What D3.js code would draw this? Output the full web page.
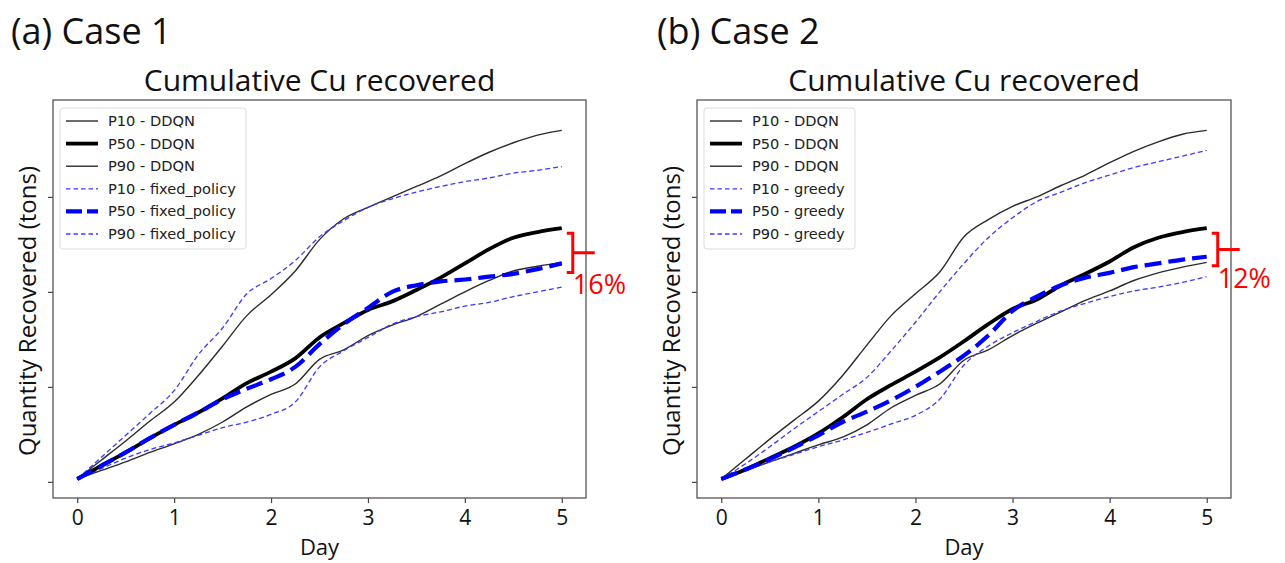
<!DOCTYPE html>
<html>
<head>
<meta charset="utf-8">
<script src="https://cdn.jsdelivr.net/npm/d3@7"></script>
<style>
  body { margin: 0; background: #fff; }
  svg { display: block; }
</style>
</head>
<body>
<svg id="chart"></svg>
<script>
// Datos
var W = 1285,
    H = 563;

var days = [0, 0.25, 0.5, 0.75, 1, 1.25, 1.5, 1.75, 2, 2.25, 2.5,
    2.75, 3, 3.25, 3.5, 3.75, 4, 4.25, 4.5, 4.75, 5];
var xTicks = [0, 1, 2, 3, 4, 5];
var yTicks = [0, 1, 2, 3];

// Case 1
var a_p10_ddqn = [0.03, 0.23, 0.43, 0.64, 0.84, 1.12, 1.43, 1.75, 1.97, 2.22, 2.55,
    2.77, 2.89, 3.00, 3.11, 3.22, 3.35, 3.47, 3.57, 3.65, 3.70];
var a_p50_ddqn = [0.03, 0.17, 0.31, 0.46, 0.60, 0.73, 0.88, 1.04, 1.16, 1.30, 1.52,
    1.67, 1.81, 1.90, 2.02, 2.15, 2.30, 2.45, 2.57, 2.63, 2.67];
var a_p90_ddqn = [0.03, 0.12, 0.21, 0.31, 0.40, 0.50, 0.63, 0.79, 0.92, 1.03, 1.29,
    1.39, 1.54, 1.65, 1.74, 1.87, 2.00, 2.12, 2.22, 2.27, 2.31];
var a_p10_fixed = [0.03, 0.26, 0.49, 0.72, 0.96, 1.34, 1.62, 1.98, 2.14, 2.33, 2.58,
    2.75, 2.89, 2.98, 3.05, 3.11, 3.16, 3.20, 3.25, 3.28, 3.32];
var a_p50_fixed = [0.03, 0.17, 0.31, 0.46, 0.60, 0.73, 0.87, 0.98, 1.08, 1.21, 1.45,
    1.66, 1.83, 2.00, 2.07, 2.11, 2.13, 2.16, 2.19, 2.24, 2.30];
var a_p90_fixed = [0.03, 0.14, 0.25, 0.34, 0.41, 0.49, 0.57, 0.63, 0.71, 0.84, 1.21,
    1.38, 1.52, 1.66, 1.74, 1.79, 1.85, 1.89, 1.95, 2.00, 2.05];

// Case 2
var b_p10_ddqn = [0.03, 0.24, 0.45, 0.65, 0.85, 1.12, 1.44, 1.75, 1.98, 2.21, 2.58,
    2.76, 2.90, 3.00, 3.12, 3.23, 3.36, 3.48, 3.58, 3.66, 3.70];
var b_p50_ddqn = [0.03, 0.13, 0.25, 0.37, 0.51, 0.68, 0.87, 1.02, 1.16, 1.31, 1.48,
    1.66, 1.82, 1.92, 2.07, 2.19, 2.32, 2.47, 2.57, 2.63, 2.67];
var b_p90_ddqn = [0.03, 0.12, 0.21, 0.30, 0.39, 0.47, 0.60, 0.78, 0.91, 1.03, 1.28,
    1.39, 1.54, 1.67, 1.79, 1.91, 2.01, 2.12, 2.20, 2.26, 2.31];
var b_p10_greedy = [0.03, 0.19, 0.37, 0.56, 0.74, 0.92, 1.10, 1.38, 1.68, 2.00, 2.30,
    2.57, 2.78, 2.95, 3.05, 3.15, 3.23, 3.31, 3.37, 3.43, 3.49];
var b_p50_greedy = [0.03, 0.13, 0.24, 0.36, 0.49, 0.63, 0.74, 0.86, 1.00, 1.16, 1.33,
    1.54, 1.80, 1.95, 2.07, 2.15, 2.20, 2.26, 2.30, 2.34, 2.37];
var b_p90_greedy = [0.03, 0.12, 0.21, 0.29, 0.37, 0.44, 0.52, 0.61, 0.70, 0.87, 1.23,
    1.43, 1.57, 1.69, 1.80, 1.88, 1.95, 2.01, 2.05, 2.10, 2.16];

var styles = {
    thin: { color: '#2b2b2b', width: 1.4, dash: null, legDash: null },
    thick: { color: '#000', width: 3.8, dash: null, legDash: null },
    dthin: { color: '#3b3bff', width: 1.3, dash: '5,3', legDash: '4.5,3' },
    dthick: { color: '#0000ff', width: 4.2, dash: '17,7', legDash: '16,5' }
};

var panels = [{
    label: '(a) Case 1', left: 53, right: 586, labelX: 11,
    series: [
        { name: 'P10 - DDQN', values: a_p10_ddqn, st: 'thin' },
        { name: 'P50 - DDQN', values: a_p50_ddqn, st: 'thick' },
        { name: 'P90 - DDQN', values: a_p90_ddqn, st: 'thin' },
        { name: 'P10 - fixed_policy', values: a_p10_fixed, st: 'dthin' },
        { name: 'P50 - fixed_policy', values: a_p50_fixed, st: 'dthick' },
        { name: 'P90 - fixed_policy', values: a_p90_fixed, st: 'dthin' }
    ],
    pct: '16%', legendW: 186
}, {
    label: '(b) Case 2', left: 697, right: 1231, labelX: 657,
    series: [
        { name: 'P10 - DDQN', values: b_p10_ddqn, st: 'thin' },
        { name: 'P50 - DDQN', values: b_p50_ddqn, st: 'thick' },
        { name: 'P90 - DDQN', values: b_p90_ddqn, st: 'thin' },
        { name: 'P10 - greedy', values: b_p10_greedy, st: 'dthin' },
        { name: 'P50 - greedy', values: b_p50_greedy, st: 'dthick' },
        { name: 'P90 - greedy', values: b_p90_greedy, st: 'dthin' }
    ],
    pct: '12%', legendW: 151
}];

var svg = d3.select('#chart')
    .attr('width', W)
    .attr('height', H);

var plotTop = 100,
    plotBottom = 498;
var bigFont = "'Open Sans', 'Noto Sans', sans-serif";

function drawPanel(p) {
    var g = svg.append('g');

    var xScale = d3.scaleLinear()
        .domain([-0.25, 5.25])
        .range([p.left, p.right]);
    var yScale = d3.scaleLinear()
        .domain([-0.17, 4.02])
        .range([plotBottom, plotTop]);

    // etiqueta del panel y titulo
    g.append('text')
        .attr('x', p.labelX)
        .attr('y', 44)
        .attr('font-family', bigFont)
        .attr('font-size', 36)
        .attr('fill', '#111')
        .text(p.label);
    g.append('text')
        .attr('x', (p.left + p.right) / 2)
        .attr('y', 91)
        .attr('text-anchor', 'middle')
        .attr('font-family', bigFont)
        .attr('font-size', 30)
        .attr('fill', '#111')
        .text('Cumulative Cu recovered');

    // ejes
    var xAxis = d3.axisBottom(xScale).tickValues(xTicks).tickFormat(d3.format('d'))
        .tickSize(5).tickPadding(7);
    var yAxis = d3.axisLeft(yScale).tickValues(yTicks).tickSize(5).tickFormat('');

    var gx = g.append('g')
        .attr('transform', 'translate(0,' + plotBottom + ')')
        .call(xAxis);
    gx.select('.domain').remove();
    gx.selectAll('line').attr('stroke', '#444').attr('stroke-width', 1.2);
    gx.selectAll('text')
        .attr('font-family', bigFont)
        .attr('font-size', 21)
        .attr('fill', '#111');

    var gy = g.append('g')
        .attr('transform', 'translate(' + p.left + ',0)')
        .call(yAxis);
    gy.select('.domain').remove();
    gy.selectAll('line').attr('stroke', '#444').attr('stroke-width', 1.2);

    g.append('text')
        .attr('x', (p.left + p.right) / 2)
        .attr('y', 555)
        .attr('text-anchor', 'middle')
        .attr('font-family', bigFont)
        .attr('font-size', 22)
        .attr('fill', '#111')
        .text('Day');

    g.append('text')
        .attr('transform', 'translate(' + (p.left - 17) + ',' + ((plotTop + plotBottom) / 2 + 12) + ') rotate(-90)')
        .attr('text-anchor', 'middle')
        .attr('font-family', bigFont)
        .attr('font-size', 24)
        .attr('fill', '#111')
        .text('Quantity Recovered (tons)');

    // lineas
    var line = d3.line()
        .x(function(d, i) { return xScale(days[i]); })
        .y(function(d) { return yScale(d); })
        .curve(d3.curveMonotoneX);

    var order = [0, 2, 3, 5, 1, 4];
    order.forEach(function(k) {
        var s = p.series[k];
        var st = styles[s.st];
        g.append('path')
            .datum(s.values)
            .attr('d', line)
            .attr('fill', 'none')
            .attr('stroke', st.color)
            .attr('stroke-width', st.width)
            .attr('stroke-dasharray', st.dash)
            .attr('stroke-linejoin', 'round');
    });

    // marco
    g.append('rect')
        .attr('x', p.left)
        .attr('y', plotTop)
        .attr('width', p.right - p.left)
        .attr('height', plotBottom - plotTop)
        .attr('fill', 'none')
        .attr('stroke', '#555')
        .attr('stroke-width', 1.3);

    // leyenda
    var lg = g.append('g').attr('transform', 'translate(' + (p.left + 7) + ',108)');
    lg.append('rect')
        .attr('width', p.legendW)
        .attr('height', 141)
        .attr('rx', 3)
        .attr('fill', 'rgba(255,255,255,0.85)')
        .attr('stroke', '#ddd');
    p.series.forEach(function(s, i) {
        var st = styles[s.st];
        var yy = 13 + i * 22.6;
        lg.append('line')
            .attr('x1', 6).attr('x2', 38)
            .attr('y1', yy).attr('y2', yy)
            .attr('stroke', st.color)
            .attr('stroke-width', st.width)
            .attr('stroke-dasharray', st.legDash);
        lg.append('text')
            .attr('x', 48)
            .attr('y', yy + 5)
            .attr('font-family', "'DejaVu Sans', sans-serif")
            .attr('font-size', 14.6)
            .attr('fill', '#222')
            .text(s.name);
    });

    // anotacion roja
    var last = days.length - 1;
    var yTop = yScale(p.series[1].values[last]) + 5;
    var yBot = yScale(p.series[4].values[last]) + 9;
    var xb = xScale(5) + 5;
    var yMid = (yTop + yBot) / 2;
    g.append('path')
        .attr('d', 'M' + xb + ',' + yTop + 'H' + (xb + 6) + 'V' + yBot + 'H' + xb +
            'M' + (xb + 6) + ',' + yMid + 'H' + (xb + 28))
        .attr('fill', 'none')
        .attr('stroke', '#ff0000')
        .attr('stroke-width', 3);
    g.append('text')
        .attr('x', xb + 6)
        .attr('y', yBot + 22)
        .attr('font-family', bigFont)
        .attr('font-size', 27)
        .attr('fill', '#ff0000')
        .text(p.pct);
}

panels.forEach(drawPanel);
</script>
</body>
</html>
